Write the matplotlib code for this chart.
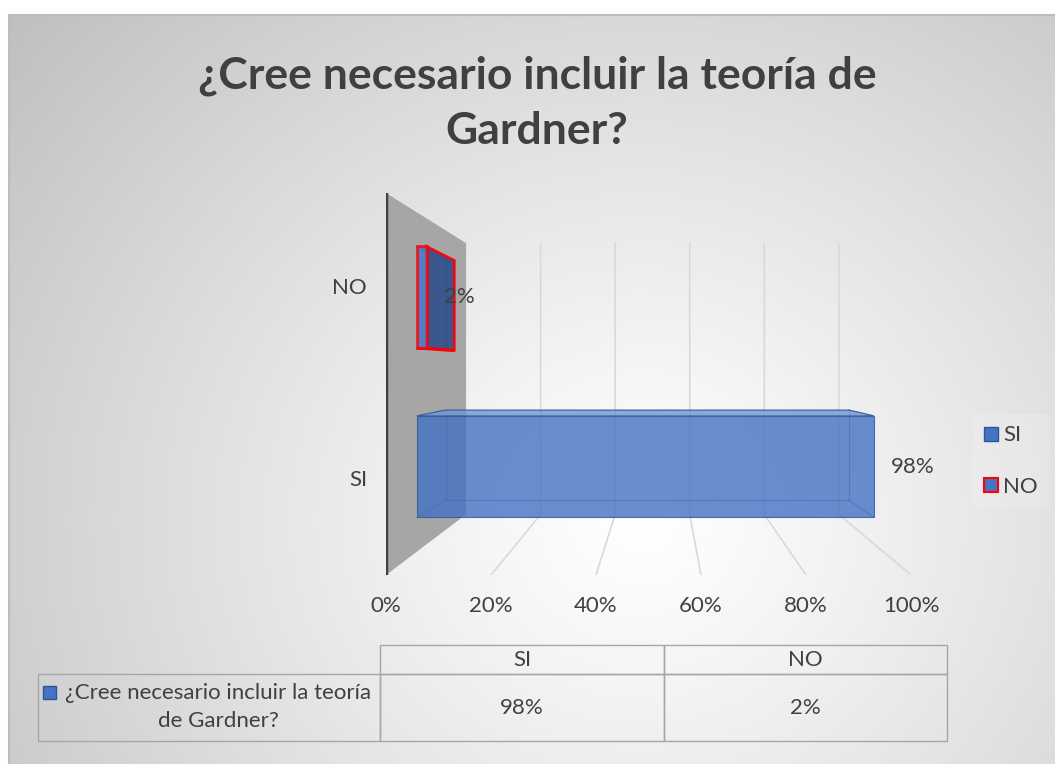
import numpy as np
import matplotlib
matplotlib.use("Agg")
import matplotlib.pyplot as plt
from matplotlib.patches import Polygon, Rectangle, Patch
from matplotlib.table import Table

plt.rcParams['font.family'] = ['Lato', 'DejaVu Sans']

# datos
titulo = "¿Cree necesario incluir la teoría de\nGardner?"
serie = "¿Cree necesario incluir la teoría\nde Gardner?"
categorias = ["SI", "NO"]
valores = [0.98, 0.02]
ticks = [0, 0.2, 0.4, 0.6, 0.8, 1.0]
tick_labels = ["0%", "20%", "40%", "60%", "80%", "100%"]
etiquetas = [f"{v:.0%}" for v in valores]

GRIS = '#404040'
AZUL = '#4472c4'
AZUL_OSC = '#2f5597'
FS = 16

W, H = 1055, 764
fig = plt.figure(figsize=(W / 100, H / 100), dpi=100)

# fondo con degradado radial
bg = fig.add_axes([0, 0, 1, 1])
bg.axis('off')
yy, xx = np.mgrid[0:H, 0:W]
r = np.sqrt(((xx - 640) / 600) ** 2 + ((yy - 520) / 560) ** 2)
g = np.clip(255 - 44 * r ** 1.15, 0, 255) / 255
img = np.dstack([g, g, g])
img[:14, :] = 1
img[:, :8] = 1
bg.imshow(img, extent=(0, W, H, 0), aspect='auto', interpolation='bilinear')
bg.set_xlim(0, W)
bg.set_ylim(H, 0)
bg.plot([8.5, 8.5, W], [H, 14.5, 14.5], color='#bdbdbd', lw=1.5)

# ejes "3D" (plano frontal)
ax = fig.add_axes([386 / W, 1 - 575 / H, 525 / W, 382 / H])
ax.set_xlim(0, 1)
ax.set_ylim(1, 0)
ax.axis('off')

VX, VY, K = 0.526, 0.453, 0.29


def proy(v, u, t):
    s = 1 - K * t
    return (VX + s * (v - VX), VY + s * (u - VY))


# pared lateral
ax.add_patch(Polygon([proy(0, 0, 0), proy(0, 0, 1), proy(0, 1, 1), proy(0, 1, 0)],
                     closed=True, fc='#a6a6a6', ec='none', zorder=1))
ax.plot([0, 0], [0, 1], color=GRIS, lw=3.2, solid_capstyle='butt', zorder=2)

# lineas de division (pared del fondo y suelo)
for tk in ticks[1:]:
    p1, p2, p3 = proy(tk, 0, 1), proy(tk, 1, 1), proy(tk, 1, 0)
    ax.plot([p1[0], p2[0], p3[0]], [p1[1], p2[1], p3[1]], color='#d9d9d9', lw=1.2, zorder=1)

# barras
n = len(categorias)
t0, t1 = 0.39, 0.75
for i, (cat, v, et) in enumerate(zip(categorias, valores, etiquetas)):
    uc = 1 - (i + 0.5) / n
    u0, u1 = uc - 0.3 / n, uc + 0.3 / n
    borde = 'red' if cat == "NO" else AZUL_OSC
    lwb = 2 if cat == "NO" else 0.8

    # aristas interiores
    for (a, b) in [((0, u0), (v, u0)), ((0, u1), (v, u1)), ((0, u0), (0, u1)), ((v, u0), (v, u1))]:
        pa, pb = proy(a[0], a[1], t1), proy(b[0], b[1], t1)
        ax.plot([pa[0], pb[0]], [pa[1], pb[1]], color=AZUL_OSC, lw=0.8, alpha=0.6, zorder=3)
    for (vv, uu) in [(0, u0), (v, u0), (0, u1), (v, u1)]:
        pa, pb = proy(vv, uu, t0), proy(vv, uu, t1)
        ax.plot([pa[0], pb[0]], [pa[1], pb[1]], color=AZUL_OSC, lw=0.8, alpha=0.6, zorder=3)

    # cara superior / inferior
    if u0 > VY:
        ax.add_patch(Polygon([proy(0, u0, t0), proy(v, u0, t0), proy(v, u0, t1), proy(0, u0, t1)],
                             closed=True, fc='#6f95d8', ec=AZUL_OSC, lw=0.8, alpha=0.8, zorder=4))
    if u1 < VY:
        ax.add_patch(Polygon([proy(0, u1, t0), proy(v, u1, t0), proy(v, u1, t1), proy(0, u1, t1)],
                             closed=True, fc='#2f4f8a', ec=borde, lw=lwb, alpha=0.9, zorder=4))
    # tapa del extremo
    if v < VX:
        ax.add_patch(Polygon([proy(v, u0, t0), proy(v, u0, t1), proy(v, u1, t1), proy(v, u1, t0)],
                             closed=True, fc='#2f4f8a', ec=borde, lw=lwb, alpha=0.9, zorder=4))
    # cara frontal
    ax.add_patch(Polygon([proy(0, u0, t0), proy(v, u0, t0), proy(v, u1, t0), proy(0, u1, t0)],
                         closed=True, fc=AZUL, ec=borde, lw=lwb, alpha=0.8, zorder=5))

    # etiqueta de datos
    ax.annotate(et, xy=proy(v, uc, t0), xytext=(17, 0), textcoords='offset pixels',
                ha='left', va='center', fontsize=FS, color=GRIS, zorder=6,
                annotation_clip=False)
    # etiqueta de categoria
    ax.annotate(cat, xy=(0, uc), xytext=(-19, 0), textcoords='offset pixels',
                ha='right', va='center', fontsize=FS, color=GRIS, annotation_clip=False)

for tk, lbl in zip(ticks, tick_labels):
    ax.annotate(lbl, xy=(tk, 1), xytext=(0, -31), textcoords='offset pixels',
                ha='center', va='center', fontsize=FS, color=GRIS, annotation_clip=False)

# titulo
fig.text(537 / W, 1 - 103 / H, titulo, ha='center', va='center', fontsize=32,
         fontweight='bold', color=GRIS, linespacing=1.45)

# leyenda
handles = [Patch(fc=AZUL, ec=AZUL_OSC, lw=1), Patch(fc=AZUL, ec='red', lw=1.5)]
fig.legend(handles, categorias, loc='center left', bbox_to_anchor=(962 / W, 1 - 461 / H),
           frameon=True, facecolor='white', framealpha=0.15, edgecolor='none', fancybox=False,
           fontsize=FS, labelcolor=GRIS, handlelength=0.6, handleheight=0.6,
           handletextpad=0.25, labelspacing=1.4, borderpad=0.5)

# tabla de datos
tax = fig.add_axes([38 / W, 1 - 741 / H, 909 / W, 96 / H])
tax.axis('off')
tabla = Table(tax, bbox=[0, 0, 1, 1])
anchos = [342 / 909, 284 / 909, 283 / 909]
altos = [29 / 96, 67 / 96]
filas = [[""] + categorias, [""] + etiquetas]
for rr, fila in enumerate(filas):
    for cc, txt in enumerate(fila):
        celda = tabla.add_cell(rr, cc, width=anchos[cc], height=altos[rr], text=txt,
                               loc='center', edgecolor='#a6a6a6', facecolor='none')
        celda.get_text().set_color(GRIS)
        celda.set_linewidth(1)
tabla[0, 0].visible_edges = 'open'
tabla.auto_set_font_size(False)
tabla.set_fontsize(FS)
tax.add_table(tabla)

tax.text(0.198, 0.354, serie, transform=tax.transAxes, ha='center', va='center',
         fontsize=FS, color=GRIS, linespacing=1.55)
tax.add_patch(Rectangle((5 / 909, 0.4375), 13 / 909, 13 / 96, transform=tax.transAxes,
                        fc=AZUL, ec=AZUL_OSC, lw=1))

fig.savefig("out.png", dpi=100)
